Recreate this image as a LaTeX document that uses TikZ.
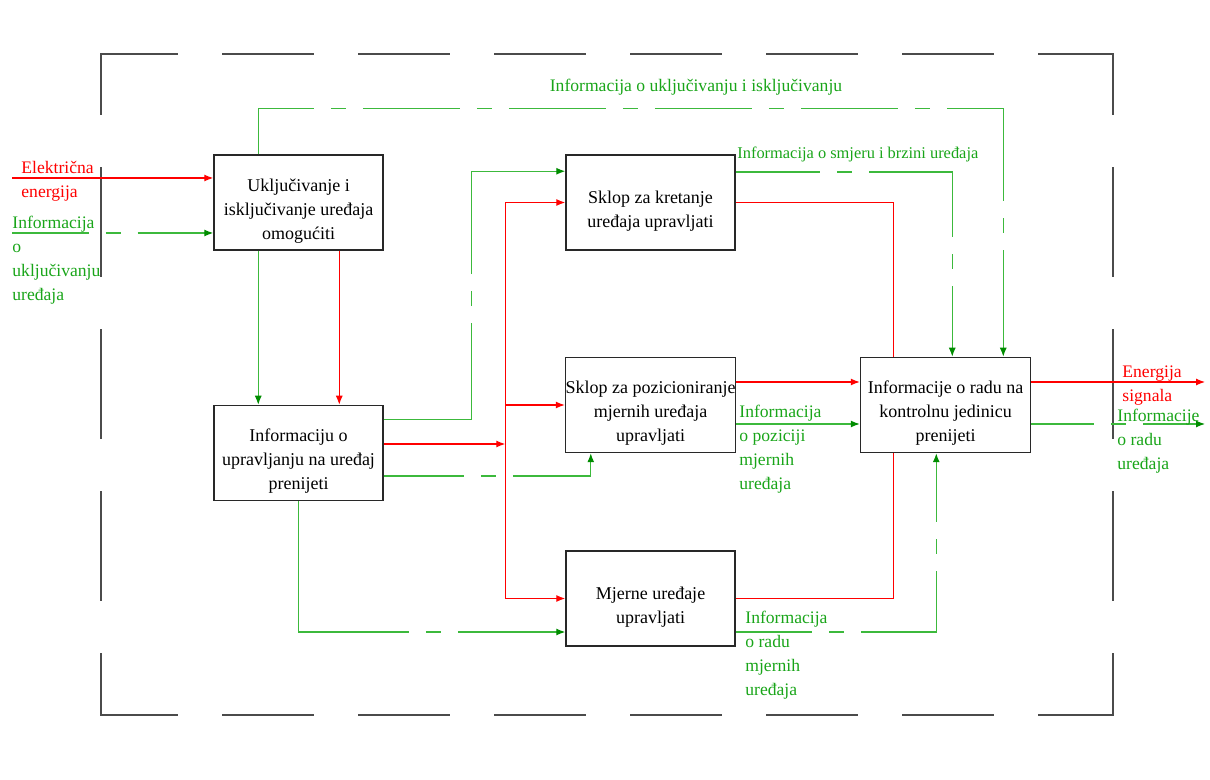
\documentclass[tikz,border=0pt]{standalone}
\usepackage{fontspec}
\setmainfont{Liberation Serif}
\usetikzlibrary{arrows.meta,calc}
\definecolor{lgreen}{RGB}{60,185,60}
\definecolor{dgreen}{RGB}{0,140,0}
\definecolor{tgreen}{RGB}{25,165,25}
\definecolor{okvir}{RGB}{75,75,75}
\definecolor{boxc}{RGB}{40,40,40}
\newcommand{\gornji}{\rule{0pt}{14.5pt}}
\tikzset{
  blok/.style={draw=boxc, line width=0.75pt, fill=white, minimum width=84.5pt,
    minimum height=47.5pt, inner sep=0pt, align=center,
    font=\fontsize{9}{12}\selectfont},
  oznaka/.style={inner sep=0pt, anchor=north west, align=left,
    font=\fontsize{8.8}{12}\selectfont},
  okvirh/.style={draw=okvir, line width=0.8pt, line cap=rect,
    dash pattern=on 45pt off 23pt, dash phase=7pt},
  okvirv/.style={draw=okvir, line width=0.8pt, line cap=rect,
    dash pattern=on 54pt off 27pt, dash phase=24pt},
  snaga/.style={draw=red, line width=0.6pt},
  info/.style={draw=lgreen, line width=0.6pt,
    >={Latex[length=4.5pt,width=3.5pt,color=dgreen]}},
  prekid/.style={dash pattern=on #1 off 8.5pt on 7.5pt off 8.5pt on 400pt},
  prekid2/.style 2 args={dash pattern=on #1 off 8.5pt on 7.5pt off 8.5pt on #2 off 8.5pt on 7.5pt off 8.5pt on 400pt}
}
\begin{document}
\begin{tikzpicture}[x=0.5pt, y=-0.5pt, >={Latex[length=4.5pt,width=3.5pt]}]
  \useasboundingbox (0,0) rectangle (1210,780);
  % granica sustava
  \draw[okvirh] (101,54) -- (1113,54);
  \draw[okvirh] (101,715) -- (1113,715);
  \draw[okvirv] (101,54) -- (101,715);
  \draw[okvirv] (1113,54) -- (1113,715);

  % blokovi
  \node[blok] (b1) at (298.5,202.5) {\gornji Uključivanje i\\isključivanje uređaja\\omogućiti};
  \node[blok] (b2) at (298.5,453) {\gornji Informaciju o\\upravljanju na uređaj\\prenijeti};
  \node[blok] (b3) at (650.5,202.5) {\gornji Sklop za kretanje\\uređaja upravljati};
  \node[blok] (b4) at (650.5,405) {\gornji Sklop za pozicioniranje\\mjernih uređaja\\upravljati};
  \node[blok] (b5) at (650.5,598.5) {\gornji Mjerne uređaje\\upravljati};
  \node[blok, minimum width=85pt] (b6) at (945.5,405) {\gornji Informacije o radu na\\kontrolnu jedinicu\\prenijeti};

  % ulazi
  \coordinate (eIn) at (12,178);
  \coordinate (iIn) at (12,233);
  \draw[snaga,->] (eIn) -- (eIn -| b1.west);
  \draw[info,->,prekid=38.25pt] (iIn) -- (iIn -| b1.west);

  % informacija o ukljucivanju i iskljucivanju
  \draw[info,->,dash pattern=on 50.5pt off 8.5pt on 7.5pt off 8.5pt on 48.5pt off 8.5pt on 7.5pt off 8.5pt on 48.5pt off 8.5pt on 7.5pt off 8.5pt on 48.5pt off 8.5pt on 7.5pt off 8.5pt on 48.5pt off 8.5pt on 7.5pt off 8.5pt on 74.5pt off 8.5pt on 7.5pt off 8.5pt on 400pt]
    ($(b1.north west)+(45,0)$) |- ($(b6.north east)+(-28,-248)$) -- ($(b6.north east)+(-28,0)$);

  % blok 1 -> blok 2
  \draw[info,->] ($(b1.south west)+(45,0)$) -- ($(b2.north west)+(45,0)$);
  \draw[snaga,->] ($(b1.south west)+(126,0)$) -- ($(b2.north west)+(126,0)$);

  % blok 2 -> blok 3
  \draw[info,->,prekid=92pt] ($(b2.north east)+(0,15)$) -| ($(b3.north west)+(-94,17)$) -- ($(b3.north west)+(0,17)$);

  % razvod snage
  \draw[snaga,->] ($(b3.west)+(-60,0)$) coordinate (bus) -- (b3.west);
  \draw[snaga,->] (bus) |- (b5.west);
  \draw[snaga,->] (bus |- b4.west) -- (b4.west);
  \coordinate (b2r) at ($(b2.east)+(0,-9)$);
  \draw[snaga,->] (b2r) -- (b2r -| bus);

  % blok 2 -> blok 4, blok 5
  \draw[info,->,prekid=40pt] ($(b2.east)+(0,23)$) -| ($(b4.south west)+(26,0)$);
  \draw[info,->,prekid=120.5pt] (b2.south) |- ($(b5.west)+(0,33.5)$);

  % blok 3 -> blok 6
  \draw[info,->,prekid2={42.25pt}{74.25pt}] ($(b3.east)+(0,-30.5)$) -| ($(b6.north west)+(92.5,0)$);
  \draw[snaga] (b3.east) -| ($(b6.north west)+(33.5,0)$);

  % blok 4 -> blok 6
  \draw[snaga,->] ($(b4.east)+(0,-23)$) -- ($(b6.west)+(0,-23)$);
  \draw[info,->] ($(b4.east)+(0,19)$) -- ($(b6.west)+(0,19)$);

  % blok 5 -> blok 6
  \draw[snaga] ($(b6.south west)+(33.5,0)$) |- (b5.east);
  \draw[info,->,prekid2={38.25pt}{68.25pt}] ($(b5.east)+(0,33.5)$) -| ($(b6.south west)+(76.5,0)$);

  % izlazi
  \coordinate (eOut) at (1205,382);
  \coordinate (iOut) at (1205,424);
  \draw[snaga,->] (eOut -| b6.east) -- (eOut);
  \draw[info,->,prekid=31.5pt] (iOut -| b6.east) -- (iOut);

  % oznake tokova
  \node[oznaka, text=red] (lEl) at (21,160.5) {Električna\\energija};
  \node[oznaka, text=tgreen] (lUkl) at (12,216) {Informacija\\o\\uključivanju\\uređaja};
  \node[oznaka, text=tgreen, anchor=base] (lTop) at (696,92) {Informacija o uključivanju i isključivanju};
  \node[oznaka, text=tgreen, anchor=base west, font=\fontsize{8.2}{12}\selectfont] (lSmjer) at (737,159) {Informacija o smjeru i brzini uređaja};
  \node[oznaka, text=tgreen] (lPoz) at (739,405) {Informacija\\o poziciji\\mjernih\\uređaja};
  \node[oznaka, text=tgreen] (lMj) at (745,611) {Informacija\\o radu\\mjernih\\uređaja};
  \node[oznaka, text=red] (lSig) at (1122,365) {Energija\\signala};
  \node[oznaka, text=tgreen] (lRad) at (1117,409) {Informacije\\o radu\\uređaja};
\end{tikzpicture}
\end{document}
